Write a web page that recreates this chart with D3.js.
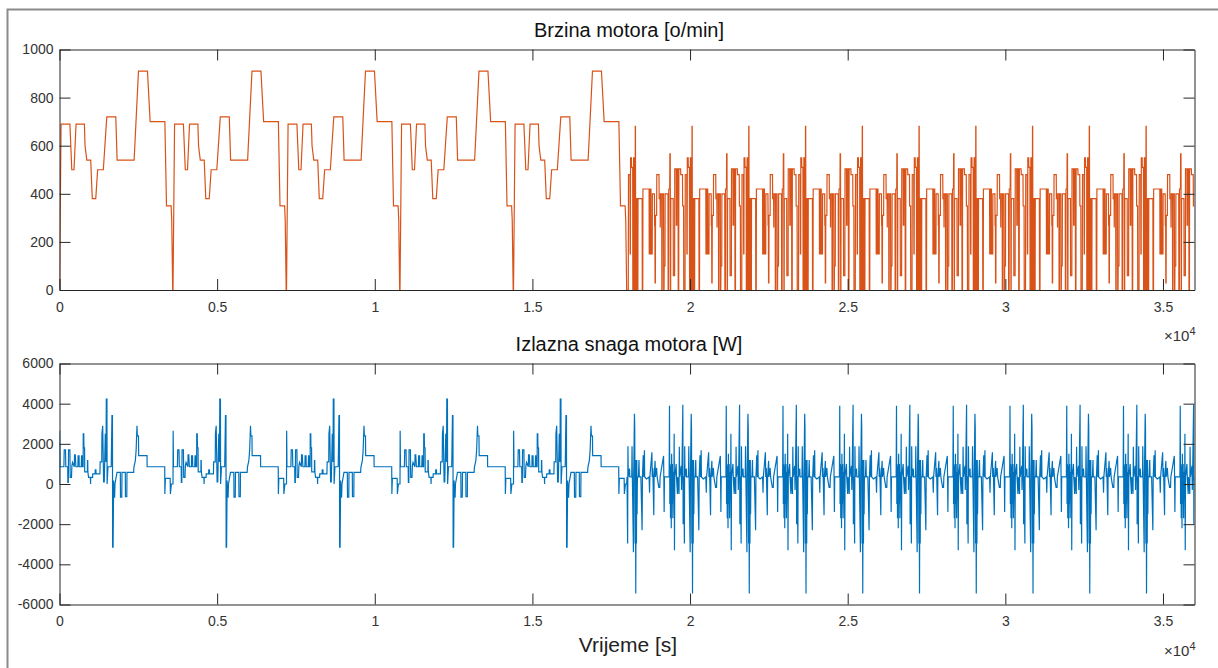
<!DOCTYPE html>
<html>
<head>
<meta charset="utf-8">
<script src="https://cdn.jsdelivr.net/npm/d3@7/dist/d3.min.js"></script>
<style>
  body { margin: 0; background: #fff; }
  svg { display: block; font-family: "Liberation Sans", Arial, Helvetica, sans-serif; }
</style>
</head>
<body>
<svg class="canvas"></svg>
<script>
var width = 1218,
    height = 668;

// ---- data ----
// first half: one 3600 s drive cycle, shown 5 times (0 .. 18000 s)
var slowCycleT   = [0, 50, 330, 390, 460, 525, 790, 810, 865, 990, 1040, 1150, 1210, 1390, 1500, 1785, 1827, 2367, 2505, 2790, 2875, 3342, 3394, 3540, 3560, 3590];
var slowCycleRpm = [0, 690, 690, 500, 500, 690, 690, 600, 540, 540, 380, 380, 500, 500, 720, 720, 540, 540, 910, 910, 700, 700, 350, 350, 290, 0];

// second half: one 1800 s cycle, shown 10 times (18000 .. 36000 s)
var fastCycleT   = [0, 40, 48, 95, 100, 108, 113, 140, 145, 180, 185, 205, 210, 230, 235, 255, 262, 268, 275, 300, 305, 330, 335, 345, 350, 480, 485, 500, 505, 700, 705, 730, 735, 760, 765, 800, 805, 870, 875, 885, 890, 900, 905, 940, 945, 1015, 1020, 1050, 1055, 1060, 1100, 1105, 1115, 1120, 1160, 1165, 1175, 1180, 1205, 1210, 1300, 1305, 1320, 1325, 1355, 1360, 1372, 1378, 1385, 1390, 1465, 1470, 1510, 1515, 1560, 1565, 1580, 1585, 1620, 1625, 1640, 1645, 1700, 1705, 1760, 1765, 1795];
var fastCycleRpm = [0, 0, 480, 480, 150, 150, 550, 550, 510, 510, 0, 0, 550, 550, 0, 0, 680, 680, 0, 0, 380, 380, 0, 0, 380, 380, 0, 0, 420, 420, 150, 150, 420, 420, 150, 150, 400, 400, 270, 270, 30, 30, 310, 310, 480, 480, 380, 380, 260, 400, 400, 0, 0, 400, 400, 0, 0, 100, 100, 400, 400, 0, 0, 420, 420, 566, 566, 0, 0, 380, 380, 60, 60, 504, 504, 270, 270, 504, 504, 0, 0, 504, 504, 480, 480, 350, 350];

var slowPowerT = [0, 5, 15, 139, 150, 190, 200, 260, 265, 280, 287, 330, 340, 380, 393, 414, 470, 478, 500, 520, 584, 590, 620, 626, 690, 700, 711, 720, 750, 753, 770, 775, 795, 800, 885, 888, 895, 900, 922, 980, 986, 990, 1050, 1055, 1130, 1134, 1155, 1160, 1282, 1290, 1340, 1346, 1370, 1399, 1420, 1452, 1475, 1484, 1505, 1510, 1537, 1640, 1664, 1680, 1685, 1700, 1717, 1730, 1748, 1760, 1823, 1929, 1935, 1975, 1982, 2087, 2092, 2135, 2140, 2352, 2360, 2405, 2430, 2458, 2470, 2505, 2511, 2776, 2780, 3337, 3342, 3358, 3510, 3517, 3549, 3590];
var slowPowerW = [0, 2650, 860, 860, 1700, 1700, 860, 860, 80, 80, 1700, 1700, 330, 330, 900, 1080, 860, 1450, 1450, 860, 860, 1400, 1400, 860, 860, 1400, 1400, 860, 860, 2500, 2500, 1800, 1800, 600, 600, 1160, 1160, 600, 330, 330, 0, 330, 330, 500, 500, 700, 700, 500, 500, 1100, 1100, 2500, 2900, 100, 100, 2500, 1100, 4230, 4230, 0, 860, 860, 3400, 3400, -3150, -3150, 170, -660, -660, 0, 580, 580, -660, -660, 580, 580, -630, -630, 580, 580, 830, 1160, 1660, 2900, 2400, 2400, 1410, 1410, 860, 860, -500, 280, 280, -500, 0, 0];

var fastPowerT = [0, 20, 30, 40, 80, 90, 150, 160, 170, 204, 212, 236, 246, 257, 266, 278, 290, 300, 310, 320, 330, 363, 380, 390, 440, 479, 490, 515, 532, 553, 560, 620, 700, 715, 725, 790, 800, 818, 850, 860, 892, 900, 940, 955, 1010, 1040, 1050, 1160, 1168, 1178, 1188, 1337, 1348, 1358, 1369, 1380, 1392, 1404, 1416, 1428, 1440, 1455, 1470, 1485, 1496, 1506, 1516, 1560, 1570, 1600, 1610, 1650, 1660, 1670, 1720, 1730, 1740, 1771, 1780, 1790];
var fastPowerW = [350, -2960, 1880, 350, 770, 350, 350, 1880, 350, -3400, 350, 3500, 2800, -2960, 1200, -5450, 1200, -2960, 1200, -1500, 350, 350, 1200, 350, 350, -2300, 350, 1430, 350, 1680, 350, 250, 350, -440, 350, 1580, 350, 800, -1560, 350, 1150, 350, 800, 350, -170, -170, 350, 1400, 350, -1400, 350, 350, 3900, -1000, 1000, -1700, 900, -2200, 1500, -1000, 1000, -1700, 600, -800, 2500, -3300, 350, 1000, 350, -500, 350, -500, 1850, 350, 900, -300, 350, 3950, -2000, 350];

var xTicks = [0, 5000, 10000, 15000, 20000, 25000, 30000, 35000];
var xTickLabels = ["0", "0.5", "1", "1.5", "2", "2.5", "3", "3.5"];
var speedTicks = [0, 200, 400, 600, 800, 1000];
var powerTicks = [-6000, -4000, -2000, 0, 2000, 4000, 6000];

// lay the measured cycles end to end
function lay(cycleT, cycleV, start, period, count) {
  var out = [];
  for (var k = 0; k < count; k++) {
    cycleT.forEach((t, i) => out.push({ t: start + k * period + t, v: cycleV[i] }));
  }
  return out;
}
var speed = lay(slowCycleT, slowCycleRpm, 0, 3600, 5).concat(lay(fastCycleT, fastCycleRpm, 18000, 1800, 10));
var power = lay(slowPowerT, slowPowerW, 0, 3600, 5).concat(lay(fastPowerT, fastPowerW, 18000, 1800, 10));

var svg = d3.select(".canvas")
    .attr("width", width)
    .attr("height", height);

svg.append("rect").attr("width", width).attr("height", height).attr("fill", "#fff");

// grey window frame
svg.append("rect")
    .attr("x", 7.5).attr("y", 9.5)
    .attr("width", width + 20).attr("height", height + 20)
    .attr("fill", "none").attr("stroke", "#8a8a8a").attr("stroke-width", 2);

var left = 59.5, right = 1194.5;
var x = d3.scaleLinear().domain([0, 36000]).range([left, right]);

function panel(id, top, bottom, yDomain, yTicks, data, color, title) {
  var y = d3.scaleLinear().domain(yDomain).range([bottom, top]);
  var g = svg.append("g");

  g.append("clipPath").attr("id", id)
    .append("rect").attr("x", left).attr("y", top).attr("width", right - left).attr("height", bottom - top);

  g.append("path")
    .datum(data)
    .attr("clip-path", "url(#" + id + ")")
    .attr("fill", "none")
    .attr("stroke", color)
    .attr("stroke-width", 1.2)
    .attr("d", d3.line().x(d => x(d.t)).y(d => y(d.v)));

  var ax = [
    [d3.axisBottom(x).tickValues(xTicks).tickFormat((d, i) => xTickLabels[i]).tickPadding(12), bottom, 0],
    [d3.axisTop(x).tickValues(xTicks).tickFormat(""), top, 0],
    [d3.axisLeft(y).tickValues(yTicks).tickFormat(d => String(d)).tickPadding(6), 0, left],
    [d3.axisRight(y).tickValues(yTicks).tickFormat(""), 0, right]
  ];
  ax.forEach(a => {
    var sel = g.append("g")
        .attr("transform", "translate(" + a[2] + "," + a[1] + ")")
        .call(a[0].tickSizeInner(-11).tickSizeOuter(0));
    sel.select(".domain").attr("stroke", "#262626");
    sel.selectAll(".tick line").attr("stroke", "#262626");
    sel.selectAll(".tick text").attr("fill", "#333").style("font-size", "14px");
  });

  g.append("text")
    .attr("x", (left + right) / 2 + 2).attr("y", top - 13)
    .attr("text-anchor", "middle")
    .attr("fill", "#111")
    .style("font-size", "20px")
    .text(title);

  // exponent label
  var ex = g.append("text")
    .attr("x", right + 1).attr("y", bottom + 51)
    .attr("text-anchor", "end")
    .attr("fill", "#333")
    .style("font-size", "15px");
  ex.append("tspan").text("\u00d710");
  ex.append("tspan").attr("dy", -6).style("font-size", "11px").text("4");
  return y;
}

panel("clipTop", 49.5, 290, [0, 1000], speedTicks, speed, "#D95319", "Brzina motora [o/min]");
panel("clipBot", 363.5, 604.5, [-6000, 6000], powerTicks, power, "#0072BD", "Izlazna snaga motora [W]");

svg.append("text")
    .attr("x", 628).attr("y", 652)
    .attr("text-anchor", "middle")
    .attr("fill", "#222")
    .style("font-size", "21px")
    .text("Vrijeme [s]");
</script>
</body>
</html>
